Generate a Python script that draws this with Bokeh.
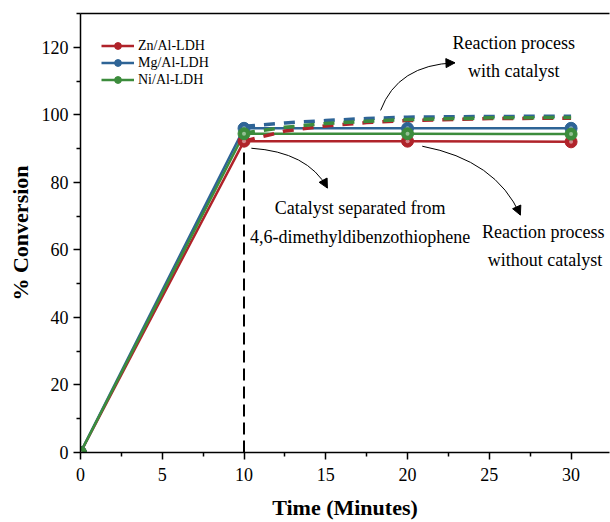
from bokeh.plotting import figure
from bokeh.models import Range1d, LinearAxis, FixedTicker, Arrow, NormalHead, Legend, LegendItem
from bokeh.core.properties import value
from bokeh.embed import file_html
from bokeh.resources import INLINE

# ---- data ----
time = [0, 10, 20, 30]
zn = [0, 92.2, 92.2, 92.0]
mg = [0, 96.0, 96.0, 96.0]
ni = [0, 94.4, 94.4, 94.3]

time_cat = [10, 12.5, 15, 17.5, 20, 25, 30]
zn_cat = [92.2, 95.2, 96.7, 97.7, 98.3, 98.9, 99.0]
mg_cat = [96.6, 97.6, 98.3, 98.9, 99.3, 99.5, 99.6]
ni_cat = [94.6, 96.3, 97.4, 98.1, 98.6, 99.1, 99.2]

sep_x = [10, 10]
sep_y = [0, 89.5]

names = ["Zn/Al-LDH", "Mg/Al-LDH", "Ni/Al-LDH"]
colors = ["#B0232A", "#2E6496", "#3C8C3C"]

x_ticks = [0, 5, 10, 15, 20, 25, 30]
y_ticks = [0, 20, 40, 60, 80, 100, 120]

# annotation text & arrows (data units)
labels_txt = ["Reaction process", "with catalyst", "Catalyst separated from",
              "4,6-dimethyldibenzothiophene", "Reaction process", "without catalyst"]
labels_x = [26.5, 26.5, 17.1, 17.1, 28.3, 28.4]
labels_y = [121.4, 113.1, 72.4, 63.8, 65.3, 57.0]

arr_x0 = [18.35, 10.45, 20.9]
arr_y0 = [101.3, 90.1, 90.7]
arr_x1 = [22.9, 15.1, 26.9]
arr_y1 = [115.4, 78.3, 70.3]
arr_cx = [19.4, 13.9, 25.4]
arr_cy = [114.8, 89.0, 86.6]

FONT = "Liberation Serif"

p = figure(width=610, height=522, output_backend="svg", toolbar_location=None,
           x_range=Range1d(0, 32.35), y_range=Range1d(0, 130),
           min_border_left=80, min_border_right=1, min_border_top=13, min_border_bottom=69)
p.outline_line_color = None
p.xgrid.visible = False
p.ygrid.visible = False
p.background_fill_color = "white"
p.border_fill_color = "white"

for ax in (p.xaxis[0], p.yaxis[0]):
    ax.axis_line_width = 1.5
    ax.axis_line_color = "black"
    ax.major_tick_in = 0
    ax.major_tick_out = 7
    ax.minor_tick_in = 0
    ax.minor_tick_out = 4
    ax.major_tick_line_width = 1.5
    ax.minor_tick_line_width = 1.5
    ax.major_label_text_font = FONT
    ax.major_label_text_font_size = "18px"
    ax.major_label_text_color = "black"
    ax.axis_label_text_font = FONT
    ax.axis_label_text_font_style = "bold"
    ax.axis_label_text_font_size = "22px"
    ax.axis_label_text_color = "black"
    ax.major_label_standoff = 5

p.xaxis.ticker = FixedTicker(ticks=x_ticks, minor_ticks=[2.5 + 5 * i for i in range(7)])
p.yaxis.ticker = FixedTicker(ticks=y_ticks, minor_ticks=[10 + 20 * i for i in range(7)])
p.xaxis.axis_label = "Time (Minutes)"
p.yaxis.axis_label = "% Conversion"
p.xaxis.major_label_standoff = 8
p.xaxis.axis_label_standoff = 11
p.yaxis.axis_label_standoff = 6

top = LinearAxis(ticker=FixedTicker(ticks=[]), axis_line_width=1.5, axis_line_color="black",
                 major_label_text_font_size="0px")
p.add_layout(top, "above")

# vertical separation line
p.line(sep_x, sep_y, line_color="black", line_width=2, line_dash="12 6")

series = [zn, mg, ni]
series_cat = [zn_cat, mg_cat, ni_cat]
items = []
line_r = []
for s, c, n in zip(series, colors, names):
    r = p.line(time, s, line_color=c, line_width=2.5)
    line_r.append(r)
for s, c in zip(series_cat, colors):
    p.line(time_cat, s, line_color=c, line_width=3.5, line_dash="11 9")
for s, c, n, lr in zip(series, colors, names, line_r):
    m = p.scatter(time, s, size=12, fill_color=c, line_color=c, line_width=1)
    h = p.scatter(time, s, size=4, fill_color="white", fill_alpha=0.45, line_color=None)
    items.append(LegendItem(label=n, renderers=[lr, m]))

legend = Legend(items=items, location=(21, 364), glyph_width=33, glyph_height=17,
                label_standoff=4, spacing=0, padding=0, margin=0,
                border_line_color=None, background_fill_alpha=0,
                label_text_font=FONT, label_text_font_size="14px", label_text_color="black")
p.add_layout(legend, "center")

# arrows
p.quadratic(x0=arr_x0, y0=arr_y0, x1=arr_x1, y1=arr_y1, cx=arr_cx, cy=arr_cy,
            line_color="black", line_width=1)
for x1, y1, cx, cy in zip(arr_x1, arr_y1, arr_cx, arr_cy):
    xs = x1 - 0.08 * (x1 - cx)
    ys = y1 - 0.08 * (y1 - cy)
    p.add_layout(Arrow(end=NormalHead(size=9, fill_color="black", line_color="black"),
                       x_start=xs, y_start=ys, x_end=x1, y_end=y1,
                       line_color="black", line_width=1))

p.text(x=labels_x, y=labels_y, text=labels_txt, text_font=value(FONT),
       text_font_size="18px", text_align="center", text_baseline="middle", text_color="black")

open("out.html", "w").write(file_html(p, INLINE))
